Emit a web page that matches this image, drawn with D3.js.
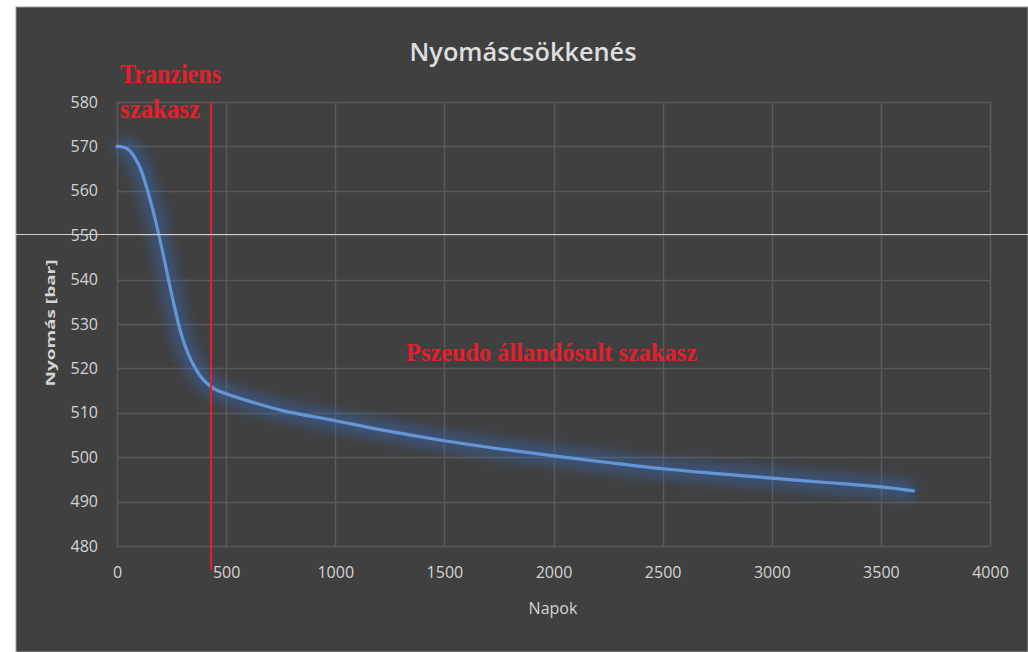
<!DOCTYPE html>
<html>
<head>
<meta charset="utf-8">
<script src="https://cdn.jsdelivr.net/npm/d3@7"></script>
<style>
  body { margin: 0; background: #fff; }
  svg { display: block; }
</style>
</head>
<body>
<svg id="chart"></svg>
<script>
// values
var days     = [0, 50, 100, 150, 200, 250, 300, 350, 400, 450, 500, 600, 750, 1000, 1250, 1500, 1750, 2000, 2250, 2500, 2750, 3000, 3250, 3500, 3650];
var pressure = [570, 569.4, 565.8, 558.3, 548.3, 536.8, 526.8, 520.8, 517.2, 515.3, 514.3, 512.7, 510.6, 508.2, 505.8, 503.7, 501.9, 500.3, 498.8, 497.4, 496.3, 495.3, 494.3, 493.3, 492.4];
var xTicks = [0, 500, 1000, 1500, 2000, 2500, 3000, 3500, 4000];
var yTicks = [480, 490, 500, 510, 520, 530, 540, 550, 560, 570, 580];
var boundaryDay = 431;

var width = 1028, height = 652;
var plot = { left: 117, right: 990, top: 102, bottom: 546 };
var grey = "#d4d4d4", gridColor = "#5a5a5a", red = "#e3202c";
var sans = "'Open Sans', sans-serif";
var serif = "'Liberation Serif', 'Times New Roman', serif";

var svg = d3.select("#chart").attr("width", width).attr("height", height);

// page + dark chart background
svg.append("rect").attr("width", width).attr("height", height).attr("fill", "#ffffff");
svg.append("rect").attr("x", 16).attr("y", 7).attr("width", width - 16).attr("height", height - 7)
    .attr("fill", "#404040").attr("stroke", "#9a9a9a").attr("stroke-width", 1);

var defs = svg.append("defs");
defs.append("filter").attr("id", "glow").attr("x", "-20%").attr("y", "-20%").attr("width", "140%").attr("height", "140%")
  .append("feGaussianBlur").attr("stdDeviation", 6);

var x = d3.scaleLinear().domain([0, 4000]).range([plot.left, plot.right]);
var y = d3.scaleLinear().domain([480, 580]).range([plot.bottom, plot.top]);

// gridlines
var g = svg.append("g");
g.selectAll(".hgrid").data(yTicks).enter().append("line")
    .attr("x1", plot.left).attr("x2", plot.right)
    .attr("y1", function (d) { return Math.round(y(d)) + 0.5; })
    .attr("y2", function (d) { return Math.round(y(d)) + 0.5; })
    .attr("stroke", gridColor).attr("stroke-width", 1.5);
g.selectAll(".vgrid").data(xTicks).enter().append("line")
    .attr("y1", plot.top).attr("y2", plot.bottom)
    .attr("x1", function (d) { return Math.round(x(d)) + 0.5; })
    .attr("x2", function (d) { return Math.round(x(d)) + 0.5; })
    .attr("stroke", gridColor).attr("stroke-width", 1.5);

// axes (labels only)
var yAxis = svg.append("g").attr("transform", "translate(" + (plot.left - 19) + ",0)")
    .call(d3.axisLeft(y).tickValues(yTicks).tickSize(0).tickPadding(0));
var xAxis = svg.append("g").attr("transform", "translate(0," + (plot.bottom + 21) + ")")
    .call(d3.axisBottom(x).tickValues(xTicks).tickFormat(d3.format("d")).tickSize(0).tickPadding(0));
[xAxis, yAxis].forEach(function (a) {
  a.select(".domain").remove();
  a.selectAll("text").attr("fill", grey).style("font-family", sans).style("font-size", "16px");
});

// glow + line
var line = d3.line().x(function (d, i) { return x(days[i]); }).y(function (d) { return y(d); })
    .curve(d3.curveCatmullRom.alpha(0.5));
svg.append("path").datum(pressure).attr("d", line).attr("fill", "none")
    .attr("stroke", "#3a6cc0").attr("stroke-width", 20).attr("stroke-opacity", 0.42)
    .attr("filter", "url(#glow)");
svg.append("path").datum(pressure).attr("d", line).attr("fill", "none")
    .attr("stroke", "#6496d6").attr("stroke-width", 3.2).attr("stroke-linecap", "round");

// transient / pseudo steady boundary
svg.append("line")
    .attr("x1", x(boundaryDay)).attr("x2", x(boundaryDay))
    .attr("y1", plot.top).attr("y2", plot.bottom + 24)
    .attr("stroke", red).attr("stroke-width", 2);

// titles
svg.append("text").attr("x", 523).attr("y", 61).attr("text-anchor", "middle")
    .attr("fill", "#dedede").style("font-family", sans).style("font-size", "25px").style("font-weight", 600)
    .attr("textLength", 227).attr("lengthAdjust", "spacingAndGlyphs")
    .text("Nyomáscsökkenés");
svg.append("text").attr("x", 553).attr("y", 614).attr("text-anchor", "middle")
    .attr("fill", grey).style("font-family", sans).style("font-size", "16px")
    .text("Napok");
svg.append("text").attr("transform", "translate(55,323) rotate(-90)")
    .attr("text-anchor", "middle").attr("fill", grey)
    .style("font-family", sans).style("font-size", "13px").style("font-weight", "bold")
    .attr("textLength", 127).attr("lengthAdjust", "spacingAndGlyphs")
    .text("Nyomás [bar]");

// red annotations
svg.append("text").attr("x", 120).attr("y", 83).attr("fill", red)
    .style("font-family", serif).style("font-size", "28px").style("font-weight", "bold")
    .attr("textLength", 101).attr("lengthAdjust", "spacingAndGlyphs")
    .text("Tranziens");
svg.append("text").attr("x", 120).attr("y", 118).attr("fill", red)
    .style("font-family", serif).style("font-size", "28px").style("font-weight", "bold")
    .attr("textLength", 80).attr("lengthAdjust", "spacingAndGlyphs")
    .text("szakasz");
svg.append("text").attr("x", 406).attr("y", 361).attr("fill", red)
    .style("font-family", serif).style("font-size", "25px").style("font-weight", "bold")
    .attr("textLength", 291).attr("lengthAdjust", "spacingAndGlyphs")
    .text("Pszeudo állandósult szakasz");

// stray light line across the picture
svg.append("line").attr("x1", 16).attr("x2", width).attr("y1", 234.5).attr("y2", 234.5)
    .attr("stroke", "#cfcfcf").attr("stroke-width", 1);
</script>
</body>
</html>
